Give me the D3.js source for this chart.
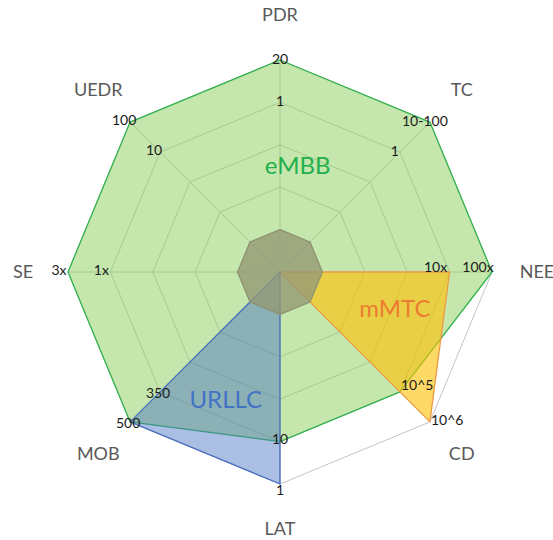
<!DOCTYPE html>
<html lang="en">
<head>
    <meta charset="UTF-8">
    <script src="https://d3js.org/d3.v7.min.js"></script>
    <title>Radar</title>
    <style>
        body { margin: 0; background: white; }
        text { font-family: Lato, "Open Sans", sans-serif; }
    </style>
</head>
<body>
    <svg width="553" height="540" id="myRadar"></svg>
    <script>
        // axes, clockwise from the top
        const axes = ["PDR", "TC", "NEE", "CD", "LAT", "MOB", "SE", "UEDR"];

        // value labels on rings 4 and 5 of each axis
        const tickLevels = [4, 5];
        const tickLabels = [
            ["1", "20"],
            ["1", "10-100"],
            ["10x", "100x"],
            ["10^5", "10^6"],
            ["10", "1"],
            ["350", "500"],
            ["1x", "3x"],
            ["10", "100"]
        ];

        // series values (0..5 per axis)
        const seriesNames = ["eMBB", "mMTC", "URLLC"];
        const eMBB  = [5, 5, 5, 4, 4, 5, 5, 5];
        const mMTC  = [0, 0, 4, 5, 0, 0, 0, 0];
        const URLLC = [0, 0, 0, 0, 5, 5, 0, 0];
        const core  = [1, 1, 1, 1, 1, 1, 1, 1];

        // where the series names sit: [axis position, value]
        const namePos = [[0.21, 2.54], [2.4, 2.85], [4.51, 3.28]];

        let svg = d3.select("#myRadar");
        const cx = 280, cy = 272;
        let r = d3.scaleLinear().domain([0, 5]).range([0, 212]);
        let ang = d3.scaleLinear().domain([0, axes.length]).range([0, 2 * Math.PI]);

        function pt(i, v) {
            let a = ang(i);
            return [cx + r(v) * Math.sin(a), cy - r(v) * Math.cos(a)];
        }

        let line = d3.line().curve(d3.curveLinearClosed);

        // grid rings
        for (let lv = 1; lv <= 5; lv++) {
            svg.append("path")
                .attr("d", line(axes.map((d, i) => pt(i, lv))))
                .attr("fill", "none")
                .attr("stroke", "#c4c4c4")
                .attr("stroke-width", 1);
        }
        // spokes
        axes.forEach((d, i) => {
            let p = pt(i, 5);
            svg.append("line")
                .attr("x1", cx).attr("y1", cy)
                .attr("x2", p[0]).attr("y2", p[1])
                .attr("stroke", "#c4c4c4")
                .attr("stroke-width", 1);
        });

        // series
        let styles = [
            { data: eMBB,  fill: "rgb(140,205,90)", op: 0.5, stroke: "#33b34f" },
            { data: mMTC,  fill: "rgb(255,192,0)",  op: 0.6, stroke: "#ed9a45" },
            { data: URLLC, fill: "rgb(68,114,196)", op: 0.45, stroke: "#4a6fc0" },
            { data: core,  fill: "rgb(148,154,118)", op: 0.8, stroke: "#8f9272" }
        ];
        styles.forEach(s => {
            svg.append("path")
                .attr("d", line(s.data.map((v, i) => pt(i, v))))
                .attr("fill", s.fill)
                .attr("fill-opacity", s.op)
                .attr("stroke", s.stroke)
                .attr("stroke-width", 1.3)
                .attr("stroke-linejoin", "round");
        });

        // value labels
        let tickOff = [[0, 4], [-5, 4], [-14, 0], [1, 3], [0, 2], [-2, 6], [-9, 3], [-6, 3]];
        tickLabels.forEach((labs, i) => {
            labs.forEach((t, k) => {
                let p = pt(i, tickLevels[k]);
                let dy = tickOff[i][1];
                if (i == 4 && k == 1) dy = 11;
                if (i == 3 && k == 0) dy = -2;
                svg.append("text")
                    .attr("x", p[0] + tickOff[i][0])
                    .attr("y", p[1] + dy)
                    .attr("text-anchor", i == 3 ? "start" : "middle")
                    .attr("font-size", 14)
                    .attr("fill", "#1a1a1a")
                    .text(t);
            });
        });

        // axis names
        axes.forEach((d, i) => {
            let a = ang(i);
            svg.append("text")
                .attr("x", cx + 257 * Math.sin(a))
                .attr("y", cy - 257 * Math.cos(a) + 6)
                .attr("text-anchor", "middle")
                .attr("font-size", 18)
                .attr("fill", "#595959")
                .text(d);
        });

        // series names
        let nameColors = ["#22b04c", "#ed7d31", "#4472c4"];
        seriesNames.forEach((n, k) => {
            let p = pt(namePos[k][0], namePos[k][1]);
            svg.append("text")
                .attr("x", p[0])
                .attr("y", p[1] + 8)
                .attr("text-anchor", "middle")
                .attr("font-size", 24)
                .attr("fill", nameColors[k])
                .text(n);
        });
    </script>
</body>
</html>
